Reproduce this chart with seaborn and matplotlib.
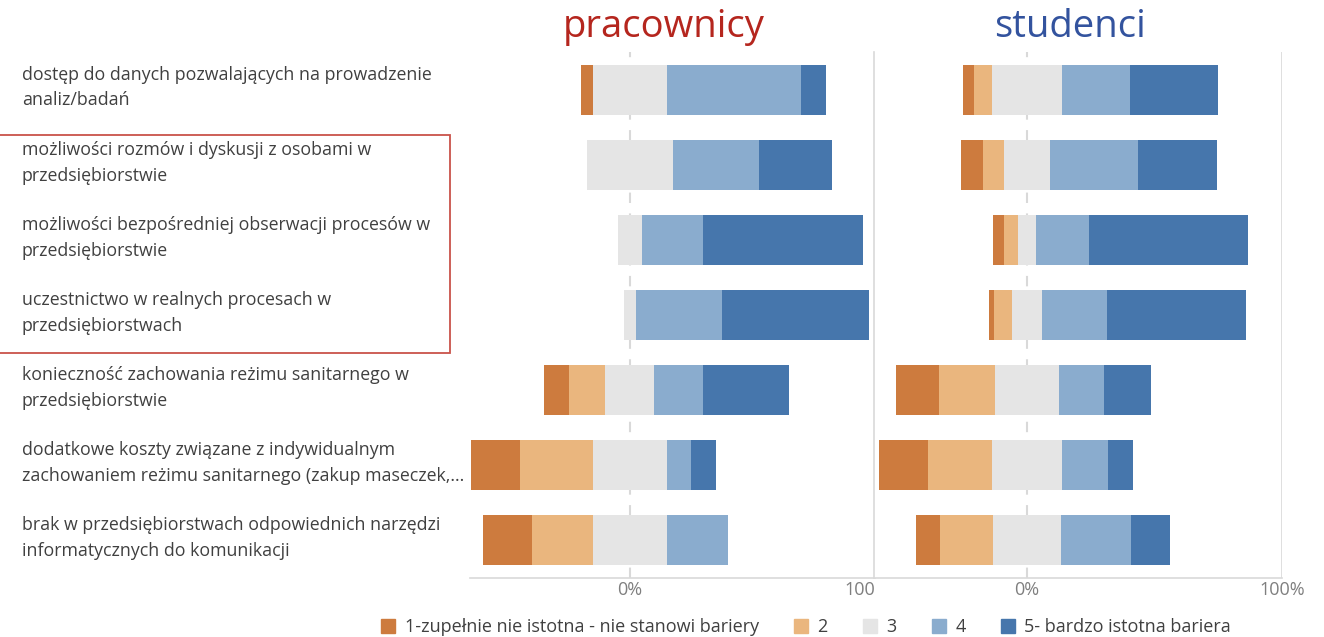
import matplotlib
matplotlib.use("Agg")
import matplotlib.pyplot as plt
import matplotlib.patches as mpatches
import matplotlib.transforms as mtransforms
import seaborn as sns
import numpy as np

# ---------------- data ----------------
categories = [
    "dostęp do danych pozwalających na prowadzenie\nanaliz/badań",
    "możliwości rozmów i dyskusji z osobami w\nprzedsiębiorstwie",
    "możliwości bezpośredniej obserwacji procesów w\nprzedsiębiorstwie",
    "uczestnictwo w realnych procesach w\nprzedsiębiorstwach",
    "konieczność zachowania reżimu sanitarnego w\nprzedsiębiorstwie",
    "dodatkowe koszty związane z indywidualnym\nzachowaniem reżimu sanitarnego (zakup maseczek,...",
    "brak w przedsiębiorstwach odpowiednich narzędzi\ninformatycznych do komunikacji",
]
levels = ["1-zupełnie nie istotna - nie stanowi bariery", "2", "3", "4",
          "5- bardzo istotna bariera"]

prac_1 = [5, 0, 0, 0, 10, 20, 20]
prac_2 = [0, 0, 0, 0, 15, 30, 25]
prac_3 = [30, 35, 10, 5, 20, 30, 30]
prac_4 = [55, 35, 25, 35, 20, 10, 25]
prac_5 = [10, 30, 65, 60, 35, 10, 0]

stud_1 = [4.3, 8.6, 4.2, 1.7, 16.7, 19.3, 9.7]
stud_2 = [6.9, 8.2, 5.5, 7.1, 21.8, 25.2, 20.8]
stud_3 = [27.5, 18.2, 7.1, 12.0, 25.4, 27.3, 26.3]
stud_4 = [26.8, 34.4, 20.8, 25.4, 17.6, 18.3, 27.8]
stud_5 = [34.5, 31.0, 62.5, 54.4, 18.4, 9.7, 15.3]

titles = ["pracownicy", "studenci"]
x_ticklabels_left = ["0%", "100"]
x_ticklabels_right = ["0%", "100%"]

# ---------------- style ----------------
colors = ["#CD7B3E", "#EAB67E", "#E5E5E5", "#8AACCE", "#4676AC"]
title_colors = ["#B5261E", "#33539E"]
text_color = "#404040"
axis_grey = "#D9D9D9"

sns.set_theme(style="white")
plt.rcParams["font.family"] = ["Open Sans", "DejaVu Sans"]

W, H = 1324, 637
fig = plt.figure(figsize=(W / 100, H / 100), dpi=100)

def fx(px):
    return px / W

def fy(py):
    return 1 - py / H

ax_top, ax_bot = 52, 578
axL = fig.add_axes([fx(470), fy(ax_bot), fx(875) - fx(470), fy(ax_top) - fy(ax_bot)])
axR = fig.add_axes([fx(874), fy(ax_bot), fx(1282) - fx(874), fy(ax_top) - fy(ax_bot)])


def diverging(ax, s1, s2, s3, s4, s5, xlim):
    s1, s2, s3, s4, s5 = map(np.asarray, (s1, s2, s3, s4, s5))
    half = s3 / 2.0
    ax.axvline(0, color=axis_grey, lw=1.5, ls=(0, (5, 5)), zorder=0)
    layers = [
        (half + s4 + s5, colors[4]),
        (half + s4, colors[3]),
        (half, colors[2]),
        (-(half + s2 + s1), colors[0]),
        (-(half + s2), colors[1]),
        (-half, colors[2]),
    ]
    for vals, c in layers:
        sns.barplot(x=vals, y=categories, orient="h", color=c, width=0.667,
                    errorbar=None, saturation=1, linewidth=0, ax=ax, zorder=2)
    ax.set_xlim(*xlim)
    ax.set_ylim(6.5, -0.5)
    ax.set_xlabel("")
    ax.set_ylabel("")
    for side in ["top", "right", "left"]:
        ax.spines[side].set_visible(False)
    ax.spines["bottom"].set_color(axis_grey)
    ax.spines["bottom"].set_linewidth(1.2)
    ax.tick_params(axis="both", length=0)
    ax.axvline(100, color=axis_grey, lw=1.2, zorder=0)


diverging(axL, prac_1, prac_2, prac_3, prac_4, prac_5, (-65.3, 100))
diverging(axR, stud_1, stud_2, stud_3, stud_4, stud_5, (-60, 100))

axR.spines["left"].set_visible(True)
axR.spines["left"].set_color(axis_grey)
axR.spines["left"].set_linewidth(1.2)

axL.set_xticks([0, 100])
axL.set_xticklabels(x_ticklabels_left, color="#7F7F7F", fontsize=13)
axL.get_xticklabels()[1].set_ha("right")
axR.set_xticks([0, 100])
axR.set_xticklabels(x_ticklabels_right, color="#7F7F7F", fontsize=13)
axL.tick_params(axis="x", pad=2)
axR.tick_params(axis="x", pad=2)

# y labels (left panel only)
axL.set_yticks(range(len(categories)))
axL.set_yticklabels(categories, ha="left", color=text_color, fontsize=12.75,
                    linespacing=1.56)
axL.tick_params(axis="y", pad=(470 - 22) * 0.72)
shift = mtransforms.ScaledTranslation(0, 8 / 100, fig.dpi_scale_trans)
for lab in axL.get_yticklabels():
    lab.set_transform(lab.get_transform() + shift)
axR.set_yticks(range(len(categories)))
axR.set_yticklabels([])

# titles
fig.text(fx(664), fy(27), titles[0], color=title_colors[0], fontsize=27.5,
         ha="center", va="center")
fig.text(fx(1070), fy(27), titles[1], color=title_colors[1], fontsize=27.5,
         ha="center", va="center")

# red frame around rows 2-4
rect = mpatches.Rectangle((fx(-2), fy(353)), fx(452), fy(135) - fy(353),
                          transform=fig.transFigure, fill=False,
                          edgecolor="#C9534A", linewidth=1.3)
fig.patches.append(rect)

# legend
handles = [mpatches.Patch(color=c, label=l) for c, l in zip(colors, levels)]
fig.legend(handles=handles, loc="center", bbox_to_anchor=(fx(806), fy(627)),
           ncol=5, frameon=False, fontsize=13, handlelength=0.8,
           handleheight=0.8, handletextpad=0.5, columnspacing=1.95,
           labelcolor=text_color)

fig.savefig("out.png", dpi=100)
